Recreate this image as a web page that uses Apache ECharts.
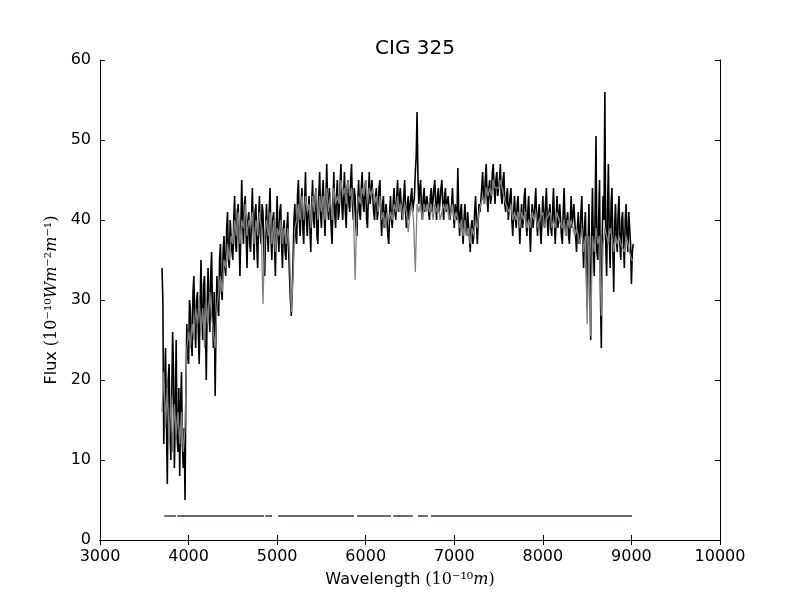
<!DOCTYPE html>
<html>
<head>
<meta charset="utf-8">
<title>CIG 325</title>
<script src="https://cdn.jsdelivr.net/npm/echarts/dist/echarts.min.js"></script>
<style>
	html, body { margin: 0; padding: 0; background: #fff; }
	#chart { width: 800px; height: 600px; }
</style>
</head>
<body>
<div id="chart"></div>
<script type="text/javascript">
	// observed spectrum: wavelength grid (Angstrom), 10 A steps
	var obsWaves = [
		3700,3710,3720,3730,3740,3750,3760,3770,3780,3790,3800,3810,3820,3830,3840,3850,3860,3870,3880,3890,
		3900,3910,3920,3930,3940,3950,3960,3970,3980,3990,4000,4010,4020,4030,4040,4050,4060,4070,4080,4090,
		4100,4110,4120,4130,4140,4150,4160,4170,4180,4190,4200,4210,4220,4230,4240,4250,4260,4270,4280,4290,
		4300,4310,4320,4330,4340,4350,4360,4370,4380,4390,4400,4410,4420,4430,4440,4450,4460,4470,4480,4490,
		4500,4510,4520,4530,4540,4550,4560,4570,4580,4590,4600,4610,4620,4630,4640,4650,4660,4670,4680,4690,
		4700,4710,4720,4730,4740,4750,4760,4770,4780,4790,4800,4810,4820,4830,4840,4850,4860,4870,4880,4890,
		4900,4910,4920,4930,4940,4950,4960,4970,4980,4990,5000,5010,5020,5030,5040,5050,5060,5070,5080,5090,
		5100,5110,5120,5130,5140,5150,5160,5170,5180,5190,5200,5210,5220,5230,5240,5250,5260,5270,5280,5290,
		5300,5310,5320,5330,5340,5350,5360,5370,5380,5390,5400,5410,5420,5430,5440,5450,5460,5470,5480,5490,
		5500,5510,5520,5530,5540,5550,5560,5570,5580,5590,5600,5610,5620,5630,5640,5650,5660,5670,5680,5690,
		5700,5710,5720,5730,5740,5750,5760,5770,5780,5790,5800,5810,5820,5830,5840,5850,5860,5870,5880,5890,
		5900,5910,5920,5930,5940,5950,5960,5970,5980,5990,6000,6010,6020,6030,6040,6050,6060,6070,6080,6090,
		6100,6110,6120,6130,6140,6150,6160,6170,6180,6190,6200,6210,6220,6230,6240,6250,6260,6270,6280,6290,
		6300,6310,6320,6330,6340,6350,6360,6370,6380,6390,6400,6410,6420,6430,6440,6450,6460,6470,6480,6490,
		6500,6510,6520,6530,6540,6550,6560,6570,6580,6590,6600,6610,6620,6630,6640,6650,6660,6670,6680,6690,
		6700,6710,6720,6730,6740,6750,6760,6770,6780,6790,6800,6810,6820,6830,6840,6850,6860,6870,6880,6890,
		6900,6910,6920,6930,6940,6950,6960,6970,6980,6990,7000,7010,7020,7030,7040,7050,7060,7070,7080,7090,
		7100,7110,7120,7130,7140,7150,7160,7170,7180,7190,7200,7210,7220,7230,7240,7250,7260,7270,7280,7290,
		7300,7310,7320,7330,7340,7350,7360,7370,7380,7390,7400,7410,7420,7430,7440,7450,7460,7470,7480,7490,
		7500,7510,7520,7530,7540,7550,7560,7570,7580,7590,7600,7610,7620,7630,7640,7650,7660,7670,7680,7690,
		7700,7710,7720,7730,7740,7750,7760,7770,7780,7790,7800,7810,7820,7830,7840,7850,7860,7870,7880,7890,
		7900,7910,7920,7930,7940,7950,7960,7970,7980,7990,8000,8010,8020,8030,8040,8050,8060,8070,8080,8090,
		8100,8110,8120,8130,8140,8150,8160,8170,8180,8190,8200,8210,8220,8230,8240,8250,8260,8270,8280,8290,
		8300,8310,8320,8330,8340,8350,8360,8370,8380,8390,8400,8410,8420,8430,8440,8450,8460,8470,8480,8490,
		8500,8510,8520,8530,8540,8550,8560,8570,8580,8590,8600,8610,8620,8630,8640,8650,8660,8670,8680,8690,
		8700,8710,8720,8730,8740,8750,8760,8770,8780,8790,8800,8810,8820,8830,8840,8850,8860,8870,8880,8890,
		8900,8910,8920,8930,8940,8950,8960,8970,8980,8990,9000,9010,9020
	];

	// observed flux (black), 10^-10 W m^-2 m^-1
	var observed = [
		34,30,12,19,24,15,7,20,22,14,10,18,26,21,9,16,25,13,11,19,
		8,17,21,12,9,14,5,19,27,23,22,30,29,25,23,31,33,27,24,30,
		31,26,22,29,35,28,25,32,33,27,20,29,34,30,26,33,36,29,24,31,
		18,27,33,29,28,35,37,31,30,36,38,34,33,39,41,35,34,40,40,36,
		35,40,43,37,36,41,42,38,33,39,45,40,37,42,43,38,34,40,41,37,
		36,40,44,39,35,41,42,37,34,40,43,38,37,42,41,36,33,39,42,38,
		36,41,44,38,35,40,41,37,33,39,43,38,36,41,42,37,34,39,40,36,
		35,39,41,36,33,30,28,31,35,40,42,38,37,43,45,40,38,42,44,39,
		37,42,46,40,38,41,43,39,36,42,45,40,39,43,44,38,37,43,46,41,
		39,43,45,41,38,42,47,42,40,44,44,39,37,42,46,41,39,43,45,40,
		41,44,47,42,40,43,46,41,39,44,45,42,41,45,47,42,40,44,43,39,
		38,42,45,41,40,44,46,42,41,44,45,40,39,43,46,42,42,45,45,41,
		40,43,44,40,41,44,45,41,38,42,43,39,39,42,42,38,37,41,43,40,
		39,42,44,41,40,43,45,41,41,44,44,40,40,43,45,41,39,42,43,40,
		40,43,44,41,41,43,46,48,53.5,45,42,44,45,41,40,43,44,41,41,43,
		43,41,40,43,44,41,41,44,45,42,40,43,44,41,41,44,45,42,40,43,
		44,41,41,43,43,40,40,42,44,41,39,42,42,40,46.5,41,38,41,42,39,
		37,40,42,39,38,41,41,38,36,39,40,37,38,41,43,40,37,40,42,41,
		41,44,46,43,42,45,47,43,41,44,45,42,43,46,47,44,42,45,46,43,
		43,45,47,43,42,45,46,42,41,43,44,40,40,43,44,40,38,41,43,40,
		39,42,43,40,37,40,42,39,40,43,44,40,38,41,43,39,36,40,42,39,
		39,42,44,40,38,41,42,39,37,40,43,40,39,42,44,40,38,41,42,39,
		38,41,44,40,37,40,43,39,39,42,42,38,37,41,44,40,38,40,41,38,
		37,40,43,39,39,42,42,38,36,39,41,37,38,41,43,38,34,39,41,35,
		29,36,42,33,25,38,44,37,33,41,50.5,36,35,40,45,31,24,38,43,40,
		56,37,33,41,47,38,34,42,44,37,31,39,42,38,36,41,43,37,35,40,
		41,37,34,40,42,38,36,41,41,37,32,36,37
	];

	// model fit: wavelength grid, 20 A steps
	var modelWaves = [
		3700,3720,3740,3760,3780,3800,3820,3840,3860,3880,
		3900,3920,3940,3960,3980,4000,4020,4040,4060,4080,
		4100,4120,4140,4160,4180,4200,4220,4240,4260,4280,
		4300,4320,4340,4360,4380,4400,4420,4440,4460,4480,
		4500,4520,4540,4560,4580,4600,4620,4640,4660,4680,
		4700,4720,4740,4760,4780,4800,4820,4840,4860,4880,
		4900,4920,4940,4960,4980,5000,5020,5040,5060,5080,
		5100,5120,5140,5160,5180,5200,5220,5240,5260,5280,
		5300,5320,5340,5360,5380,5400,5420,5440,5460,5480,
		5500,5520,5540,5560,5580,5600,5620,5640,5660,5680,
		5700,5720,5740,5760,5780,5800,5820,5840,5860,5880,
		5900,5920,5940,5960,5980,6000,6020,6040,6060,6080,
		6100,6120,6140,6160,6180,6200,6220,6240,6260,6280,
		6300,6320,6340,6360,6380,6400,6420,6440,6460,6480,
		6500,6520,6540,6560,6580,6600,6620,6640,6660,6680,
		6700,6720,6740,6760,6780,6800,6820,6840,6860,6880,
		6900,6920,6940,6960,6980,7000,7020,7040,7060,7080,
		7100,7120,7140,7160,7180,7200,7220,7240,7260,7280,
		7300,7320,7340,7360,7380,7400,7420,7440,7460,7480,
		7500,7520,7540,7560,7580,7600,7620,7640,7660,7680,
		7700,7720,7740,7760,7780,7800,7820,7840,7860,7880,
		7900,7920,7940,7960,7980,8000,8020,8040,8060,8080,
		8100,8120,8140,8160,8180,8200,8220,8240,8260,8280,
		8300,8320,8340,8360,8380,8400,8420,8440,8460,8480,
		8500,8520,8540,8560,8580,8600,8620,8640,8660,8680,
		8700,8720,8740,8760,8780,8800,8820,8840,8860,8880,
		8900,8920,8940,8960,8980,9000,9020
	];

	// model flux (grey)
	var model = [
		16,21,14,19,12,18,11,17,13,16,
		12,16,11,14,24,26,24,27,25,29,
		27,30,26,29,24,30,27,31,28,26,
		24,29,31,33,31,35,34,37,35,38,
		37,40,38,41,37,40,39,42,38,40,
		39,41,37,40,38,41,39,29.5,38,40,
		38,41,37,40,36,39,38,40,37,39,
		37,39,36,28.5,33,39,40,42,40,43,
		40,43,41,42,39,43,41,44,40,43,
		41,43,40,44,41,43,40,44,42,43,
		42,45,43,44,42,45,43,44,42,32.5,
		41,43,42,44,43,45,42,44,43,44,
		42,43,41,43,40,41,39,41,40,41,
		40,42,41,43,41,42,40,42,41,38.5,
		41,42,40,33.5,42,41,42,40,42,41,
		42,41,42,40,42,41,42,40,41,42,
		41,42,40,41,42,40,41,40,39,40,
		38,40,38,39,37,39,38,40,39,41,
		41,43,42,44,43,44,43,45,44,44,
		44,45,44,43,42,42,41,42,40,41,
		40,41,39,41,40,41,39,40,39,41,
		40,41,39,40,40,41,39,40,40,41,
		39,40,39,41,40,40,39,40,38,40,
		39,40,39,38,39,38,37,39,36,38,
		27,38,25.5,38,36,39,37,38,28,37,
		39,38,37,39,38,36,38,37,38,37,
		37,36,38,37,36,35,35
	];

	// fitted wavelength ranges, drawn as a bar at flux = 3
	var maskStart = [3726, 3873, 4866, 5010, 5902, 6312, 6590, 6737];
	var maskEnd   = [3858, 4852, 4942, 5868, 6286, 6531, 6703, 9006];
	var maskLevel = 3;

	var xTicks = [3000, 4000, 5000, 6000, 7000, 8000, 9000, 10000];
	var yTicks = [0, 10, 20, 30, 40, 50, 60];

	function pairs(xs, ys) {
		var out = [];
		for (var i = 0; i < xs.length; i++) {
			out.push([xs[i], ys[i]]);
		}
		return out;
	}

	var chart = echarts.init(document.getElementById('chart'), null, { renderer : 'canvas' });

	var series = [ {
		name : 'observed',
		type : 'line',
		data : pairs(obsWaves, observed),
		symbol : 'none',
		z : 2,
		lineStyle : { color : '#000000', width : 1.6 }
	}, {
		name : 'model',
		type : 'line',
		data : pairs(modelWaves, model),
		symbol : 'none',
		z : 3,
		lineStyle : { color : '#808080', width : 1.3 }
	} ];
	for (var k = 0; k < maskStart.length; k++) {
		series.push({
			name : 'mask' + k,
			type : 'line',
			data : [ [ maskStart[k], maskLevel ], [ maskEnd[k], maskLevel ] ],
			symbol : 'none',
			z : 4,
			lineStyle : { color : '#607078', width : 2 }
		});
	}

	var axisText = { color : '#000', fontFamily : 'DejaVu Sans', fontSize : 16 };
	var math = { fontFamily : 'DejaVu Serif', fontSize : 16, color : '#000' };
	var mathIt = { fontFamily : 'DejaVu Serif', fontStyle : 'italic', fontSize : 16, color : '#000' };
	var plain = function(v) { return String(v); };

	var option = {
		animation : false,
		backgroundColor : '#ffffff',
		title : {
			text : 'CIG 325',
			left : 410,
			top : 34,
			textAlign : 'center',
			textStyle : { fontFamily : 'DejaVu Sans', fontSize : 20, fontWeight : 'normal', color : '#000' }
		},
		grid : { left : 100, right : 80, top : 60, bottom : 60, containLabel : false },
		xAxis : [ {
			type : 'value',
			min : xTicks[0],
			max : xTicks[xTicks.length - 1],
			interval : 1000,
			name : '{t|Wavelength }{m|(10⁻¹⁰}{i|m}{m|)}',
			nameLocation : 'middle',
			nameGap : 32,
			nameTextStyle : { rich : { t : axisText, m : math, i : mathIt } },
			axisLine : { lineStyle : { color : '#000', width : 1 } },
			axisTick : { inside : true, length : 5, lineStyle : { color : '#000' } },
			axisLabel : { color : '#000', fontFamily : 'DejaVu Sans', fontSize : 16, margin : 9, formatter : plain },
			splitLine : { show : false }
		}, {
			type : 'value',
			position : 'top',
			min : xTicks[0],
			max : xTicks[xTicks.length - 1],
			interval : 1000,
			axisLine : { lineStyle : { color : '#000', width : 1 } },
			axisTick : { inside : true, length : 5, lineStyle : { color : '#000' } },
			axisLabel : { show : false },
			splitLine : { show : false }
		} ],
		yAxis : [ {
			type : 'value',
			min : yTicks[0],
			max : yTicks[yTicks.length - 1],
			interval : 10,
			name : '{t|Flux }{m|(10⁻¹⁰}{i|Wm}{m|⁻²}{i|m}{m|⁻¹)}',
			nameLocation : 'middle',
			nameRotate : 90,
			nameGap : 34,
			nameTextStyle : { rich : { t : axisText, m : math, i : mathIt } },
			axisLine : { show : true, lineStyle : { color : '#000', width : 1 } },
			axisTick : { show : true, inside : true, length : 5, lineStyle : { color : '#000' } },
			axisLabel : { color : '#000', fontFamily : 'DejaVu Sans', fontSize : 16, margin : 9, formatter : plain },
			splitLine : { show : false }
		}, {
			type : 'value',
			position : 'right',
			min : yTicks[0],
			max : yTicks[yTicks.length - 1],
			interval : 10,
			axisLine : { show : true, lineStyle : { color : '#000', width : 1 } },
			axisTick : { show : true, inside : true, length : 5, lineStyle : { color : '#000' } },
			axisLabel : { show : false },
			splitLine : { show : false }
		} ],
		series : series
	};

	chart.setOption(option);
</script>
</body>
</html>
